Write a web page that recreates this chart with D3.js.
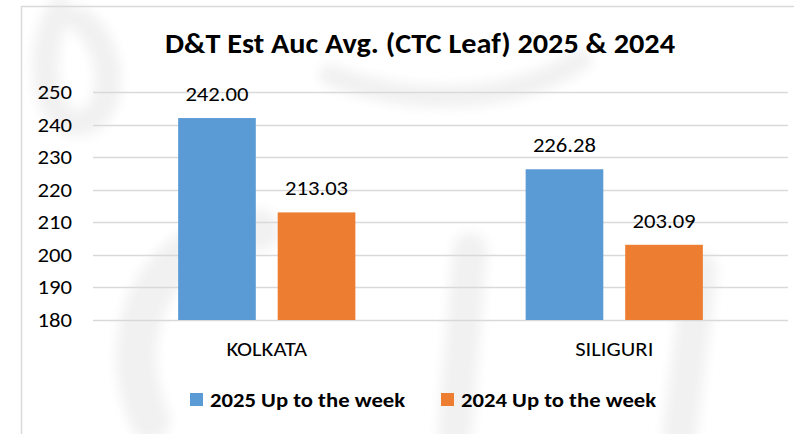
<!DOCTYPE html>
<html>
<head>
<meta charset="utf-8">
<script src="https://cdn.jsdelivr.net/npm/d3@7"></script>
<style>
  body { margin: 0; background: #fff; }
  text { font-family: Carlito, "Liberation Sans", Arial, sans-serif; fill: #000; }
</style>
</head>
<body>
<script>
// chart values
let categories = ["KOLKATA", "SILIGURI"];
let seriesNames = ["2025 Up to the week", "2024 Up to the week"];
let values2025 = [242.00, 226.28];
let values2024 = [213.03, 203.09];
let yTicks = [180, 190, 200, 210, 220, 230, 240, 250];

let colors = ["#5b9bd5", "#ed7d31"];

let svgWidth = 794;
let svgHeight = 434;

let plot = { left: 93, right: 788, top: 92, bottom: 320 };

// the source image is a bit stretched sideways, so text gets a small x-stretch
let stretch = 1.08;

let svg = d3.select("body")
    .append("svg")
    .attr("width", svgWidth)
    .attr("height", svgHeight)

svg.append("rect")
    .attr("width", svgWidth)
    .attr("height", svgHeight)
    .attr("fill", "#fff")

// faint watermark behind the chart
let wm = svg.append("g")
    .attr("fill", "none")
    .attr("stroke", "#f1f1f1")
    .attr("stroke-linecap", "round")
svg.append("defs").append("filter").attr("id", "soft")
    .append("feGaussianBlur").attr("stdDeviation", 6)
wm.attr("filter", "url(#soft)")
wm.append("path").attr("stroke-width", 26)
    .attr("d", "M60,10 C30,60 50,140 90,120 C120,100 110,40 80,20")
wm.append("path").attr("stroke-width", 22)
    .attr("d", "M330,75 C420,110 520,100 580,60")
wm.append("path").attr("stroke-width", 40)
    .attr("d", "M260,230 C160,230 110,330 150,420")
wm.append("path").attr("stroke-width", 34)
    .attr("d", "M470,250 L455,430")
wm.append("path").attr("stroke-width", 34)
    .attr("d", "M700,270 L680,430")

// frame
svg.append("path")
    .attr("d", "M21.5,434 L21.5,6.5 L794,6.5")
    .attr("fill", "none")
    .attr("stroke", "#d9d9d9")
    .attr("stroke-width", 1.5)

let yScale = d3.scaleLinear()
    .domain([180, 250])
    .range([plot.bottom, plot.top])

let x0 = d3.scaleBand()
    .domain(categories)
    .range([plot.left, plot.right])
    .paddingInner(0.49)
    .paddingOuter(0.245)

let x1 = d3.scaleBand()
    .domain(seriesNames)
    .range([0, x0.bandwidth()])
    .paddingInner(0.22)

// helper: place text at (x,y) with the sideways stretch
function place(x, y) {
    return "translate(" + x + "," + y + ") scale(" + stretch + ",1)";
}

// gridlines + labels
let grid = svg.append("g")
grid.selectAll("line")
    .data(yTicks)
    .enter()
    .append("line")
    .attr("x1", plot.left)
    .attr("x2", plot.right)
    .attr("y1", d => Math.round(yScale(d)) + 0.5)
    .attr("y2", d => Math.round(yScale(d)) + 0.5)
    .attr("stroke", "#d9d9d9")
    .attr("stroke-width", 1.5)

grid.selectAll("text")
    .data(yTicks)
    .enter()
    .append("text")
    .attr("transform", d => place(72, yScale(d) + 7))
    .attr("text-anchor", "end")
    .style("font-size", "21px")
    .text(d => d)

let table = categories.map((c, i) => ({
    cat: c,
    vals: [values2025[i], values2024[i]]
}))

let groups = svg.selectAll(".group")
    .data(table)
    .enter()
    .append("g")
    .attr("transform", d => "translate(" + x0(d.cat) + ",0)")

groups.selectAll("rect")
    .data(d => d.vals.map((v, j) => ({ key: seriesNames[j], v: v, j: j })))
    .enter()
    .append("rect")
    .attr("x", d => x1(d.key))
    .attr("width", x1.bandwidth())
    .attr("y", d => yScale(d.v))
    .attr("height", d => yScale(180) - yScale(d.v))
    .attr("fill", d => colors[d.j])

groups.selectAll(".val")
    .data(d => d.vals.map((v, j) => ({ key: seriesNames[j], v: v })))
    .enter()
    .append("text")
    .attr("transform", d => place(x1(d.key) + x1.bandwidth() / 2, yScale(d.v) - 17))
    .attr("text-anchor", "middle")
    .style("font-size", "21px")
    .text(d => d.v.toFixed(2))

// category labels
svg.selectAll(".cat")
    .data(categories)
    .enter()
    .append("text")
    .attr("transform", d => place(x0(d) + x0.bandwidth() / 2, 356))
    .attr("text-anchor", "middle")
    .style("font-size", "21px")
    .text(d => d)

// title
svg.append("text")
    .attr("transform", place(420, 53))
    .attr("text-anchor", "middle")
    .style("font-size", "28px")
    .style("font-weight", "bold")
    .text("D&T Est Auc Avg. (CTC Leaf) 2025 & 2024")

// legend
let legendX = [190, 441];
let legend = svg.selectAll(".legend")
    .data(seriesNames)
    .enter()
    .append("g")
    .attr("transform", (d, i) => "translate(" + legendX[i] + ",393)")

legend.append("rect")
    .attr("width", 13)
    .attr("height", 13)
    .attr("fill", (d, i) => colors[i])

legend.append("text")
    .attr("transform", place(20, 14))
    .style("font-size", "21px")
    .style("font-weight", "bold")
    .text(d => d)
</script>
</body>
</html>
